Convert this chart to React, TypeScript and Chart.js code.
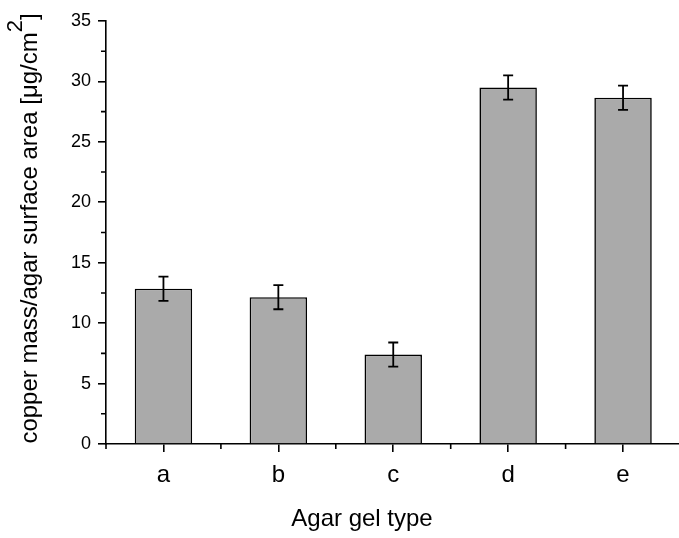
import React, { useEffect, useRef } from "react";
import { Chart, registerables } from "chart.js";

Chart.register(...registerables);

const categories = ["a", "b", "c", "d", "e"];
const values = [12.85, 12.15, 7.4, 29.5, 28.65];
const errors = [1.0, 1.0, 1.0, 1.0, 1.0];
const yTicks = [0, 5, 10, 15, 20, 25, 30, 35];
const yMinorTicks = [2.5, 7.5, 12.5, 17.5, 22.5, 27.5, 32.5];
const xMinorTicks = [0.5, 1.5, 2.5, 3.5, 4.5, 5.5];
const yTitleMain = "copper mass/agar surface area [\u03BCg/cm";
const yTitleSup = "2";
const yTitleEnd = "]";
const xTitle = "Agar gel type";

const FONT = "'Liberation Sans', Arial, sans-serif";

const errorBarPlugin = {
  id: "errorBars",
  afterDatasetsDraw(chart: any) {
    const ctx = chart.ctx;
    const yScale = chart.scales.y;
    const meta = chart.getDatasetMeta(0);
    ctx.save();
    ctx.strokeStyle = "#000";
    ctx.lineWidth = 1.8;
    meta.data.forEach((el: any, i: number) => {
      const x = el.x;
      const top = yScale.getPixelForValue(values[i] + errors[i]);
      const bot = yScale.getPixelForValue(values[i] - errors[i]);
      ctx.beginPath();
      ctx.moveTo(x, top);
      ctx.lineTo(x, bot);
      ctx.moveTo(x - 5, top);
      ctx.lineTo(x + 5, top);
      ctx.moveTo(x - 5, bot);
      ctx.lineTo(x + 5, bot);
      ctx.stroke();
    });
    ctx.restore();
  },
};

const decorPlugin = {
  id: "decor",
  afterDraw(chart: any) {
    const ctx = chart.ctx;
    const xs = chart.scales.x;
    const ys = chart.scales.y;
    const area = chart.chartArea;
    ctx.save();
    // minor ticks
    ctx.strokeStyle = "#000";
    ctx.lineWidth = 1.6;
    ctx.beginPath();
    xMinorTicks.forEach((v) => {
      const px = xs.getPixelForValue(v);
      if (px > chart.width + 1) return;
      ctx.moveTo(px, area.bottom);
      ctx.lineTo(px, area.bottom + 5);
    });
    yMinorTicks.forEach((v) => {
      const py = ys.getPixelForValue(v);
      ctx.moveTo(area.left, py);
      ctx.lineTo(area.left - 5, py);
    });
    ctx.stroke();

    // y title with superscript
    ctx.fillStyle = "#000";
    const mainFont = `24px ${FONT}`;
    const supFont = `22px ${FONT}`;
    ctx.font = mainFont;
    const w1 = ctx.measureText(yTitleMain).width;
    const w3 = ctx.measureText(yTitleEnd).width;
    ctx.font = supFont;
    const w2 = ctx.measureText(yTitleSup).width;
    const total = w1 + w2 + w3;
    const cy = (area.top + area.bottom) / 2 - 4;
    ctx.translate(37, cy + total / 2);
    ctx.rotate(-Math.PI / 2);
    ctx.textAlign = "left";
    ctx.textBaseline = "alphabetic";
    ctx.font = mainFont;
    ctx.fillText(yTitleMain, 0, 0);
    ctx.font = supFont;
    ctx.fillText(yTitleSup, w1, -15);
    ctx.font = mainFont;
    ctx.fillText(yTitleEnd, w1 + w2, 0);
    ctx.setTransform(1, 0, 0, 1, 0, 0);

    // x title
    ctx.font = mainFont;
    ctx.textAlign = "center";
    ctx.textBaseline = "alphabetic";
    ctx.fillText(xTitle, 362, 526);
    ctx.restore();
  },
};

export default function App() {
  const ref = useRef<HTMLCanvasElement>(null);
  useEffect(() => {
    document.body.style.margin = "0";
    const canvas = ref.current;
    if (!canvas) return;
    const chart = new Chart(canvas, {
      type: "bar",
      data: {
        datasets: [
          {
            data: values.map((v, i) => ({ x: i + 1, y: v })),
            backgroundColor: "#aaaaaa",
            borderColor: "#000",
            borderWidth: 1.6,
            barPercentage: 0.5,
            categoryPercentage: 1.0,
          },
        ],
      },
      plugins: [errorBarPlugin, decorPlugin],
      options: {
        responsive: false,
        animation: false,
        devicePixelRatio: 1,
        layout: { padding: { top: 21, right: 0, left: 0, bottom: 0 } },
        plugins: {
          legend: { display: false },
          tooltip: { enabled: false },
          title: { display: false },
        },
        scales: {
          x: {
            type: "linear",
            min: 0.5,
            max: 5.487,
            offset: false,
            afterBuildTicks: (scale: any) => {
              scale.ticks = categories.map((_, i) => ({ value: i + 1 }));
            },
            afterFit: (scale: any) => {
              scale.height = 94;
            },
            ticks: {
              autoSkip: false,
              maxRotation: 0,
              color: "#000",
              font: { family: FONT, size: 24 },
              padding: 9,
              callback: (v: any) => {
                const idx = Math.round(Number(v)) - 1;
                return categories[idx] ?? "";
              },
            },
            grid: {
              display: true,
              offset: false,
              drawOnChartArea: false,
              drawTicks: true,
              tickLength: 8,
              color: "#000",
              lineWidth: 1.6,
            },
            border: { display: true, color: "#000", width: 1.6 },
          },
          y: {
            type: "linear",
            min: 0,
            max: 35,
            afterBuildTicks: (scale: any) => {
              scale.ticks = yTicks.map((v) => ({ value: v }));
            },
            afterFit: (scale: any) => {
              scale.width = 106;
            },
            ticks: {
              color: "#000",
              font: { family: FONT, size: 18 },
              padding: 7,
            },
            grid: {
              display: true,
              drawOnChartArea: false,
              drawTicks: true,
              tickLength: 8,
              color: "#000",
              lineWidth: 1.6,
            },
            border: { display: true, color: "#000", width: 1.6 },
          },
        },
      },
    } as any);
    return () => chart.destroy();
  }, []);
  return (
    <canvas
      ref={ref}
      width={679}
      height={538}
      style={{ display: "block", width: 679, height: 538 }}
    />
  );
}
